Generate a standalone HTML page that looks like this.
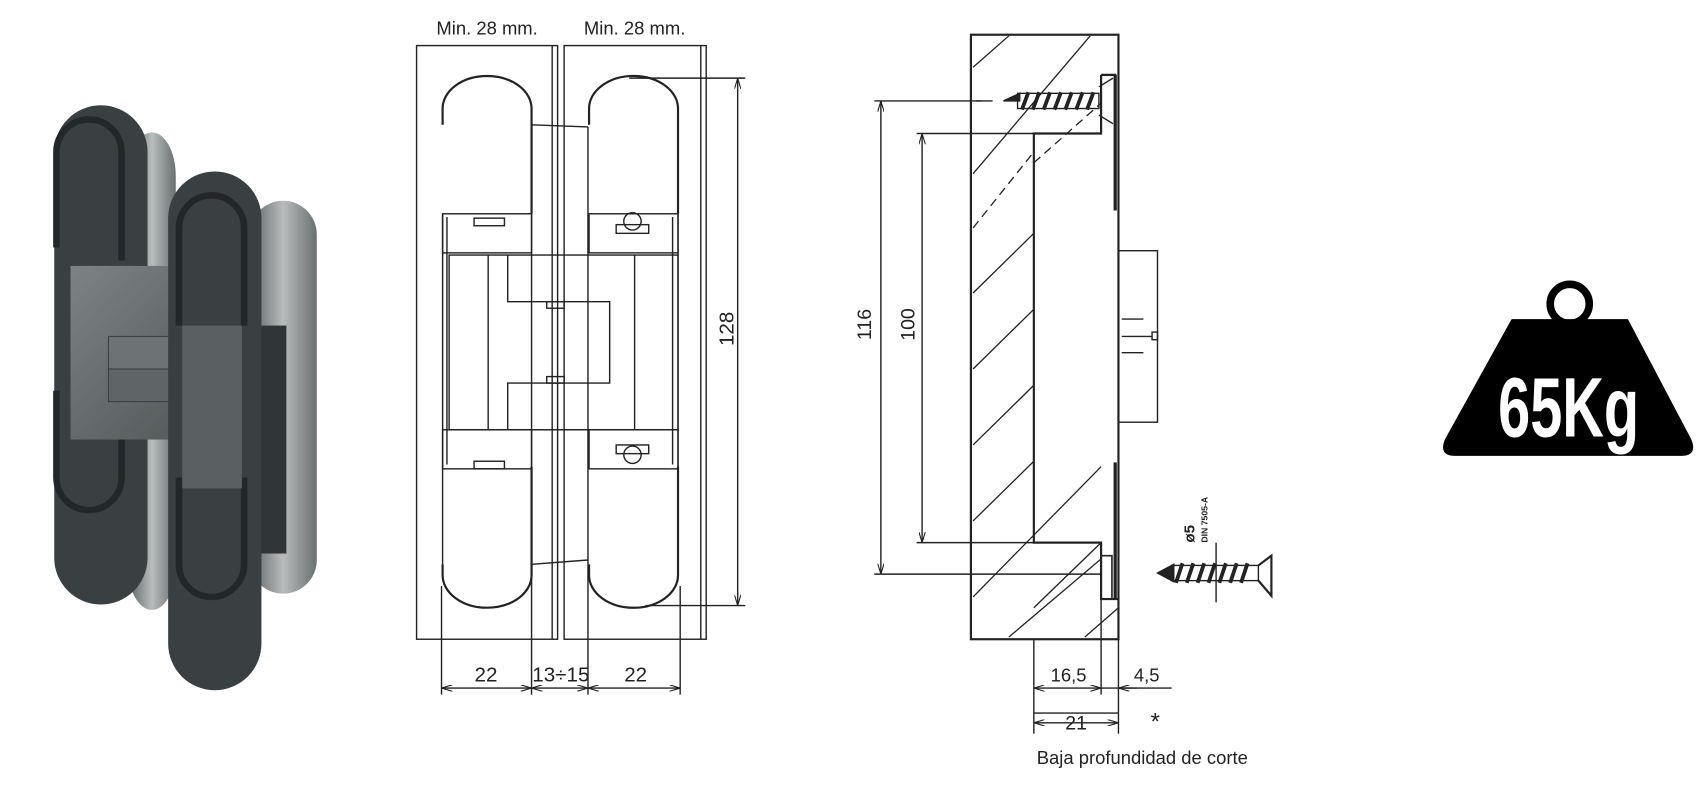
<!DOCTYPE html>
<html><head><meta charset="utf-8"><style>
html,body{margin:0;padding:0;background:#fff;width:1701px;height:789px;overflow:hidden}
svg{display:block}
text{font-family:"Liberation Sans Narrow","Liberation Sans",sans-serif;fill:#222}
</style></head><body>
<svg width="1701" height="789" viewBox="0 0 1568 727" preserveAspectRatio="none" xmlns="http://www.w3.org/2000/svg">
<defs>
<linearGradient id="edge" x1="0" y1="0" x2="1" y2="0"><stop offset="0" stop-color="#5a5f61"/><stop offset="0.5" stop-color="#b9bcbc"/><stop offset="1" stop-color="#6a6f70"/></linearGradient>
<linearGradient id="mech" x1="0" y1="0" x2="1" y2="1"><stop offset="0" stop-color="#7d8384"/><stop offset="1" stop-color="#4d5253"/></linearGradient>
<marker id="ar" viewBox="0 0 10 6" refX="10" refY="3" markerWidth="10" markerHeight="6" orient="auto-start-reverse" markerUnits="userSpaceOnUse"><path d="M0,0 L10,3 L0,6" fill="none" stroke="#222" stroke-width="1"/></marker>
</defs>

<!-- 3D hinge -->
<g>
  <rect x="118" y="122" width="44" height="440" rx="40" fill="url(#edge)"/>
  <rect x="50" y="97" width="86" height="460" rx="43" fill="#3a3f42"/>
  <path d="M52,228 V140 a30,30 0 0 1 60,0 V240" fill="none" stroke="#23272a" stroke-width="6"/>
  <path d="M52,360 V440 a30,30 0 0 0 60,0 V360" fill="none" stroke="#23272a" stroke-width="6"/>
  <rect x="65" y="245" width="150" height="160" fill="url(#mech)"/>
  <rect x="100" y="310" width="110" height="30" fill="#6d7374" stroke="#3b4042"/>
  <rect x="100" y="340" width="110" height="30" fill="#5f6566" stroke="#3b4042"/>
  <rect x="230" y="185" width="62" height="362" rx="31" fill="url(#edge)"/>
  <rect x="228" y="300" width="36" height="210" fill="#2f3436"/>
  <rect x="155" y="158" width="86" height="478" rx="43" fill="#3a3f42"/>
  <path d="M165,300 V210 a30,30 0 0 1 60,0 V300" fill="none" stroke="#23272a" stroke-width="6"/>
  <path d="M165,440 V520 a30,30 0 0 0 60,0 V440" fill="none" stroke="#23272a" stroke-width="6"/>
  <rect x="168" y="300" width="55" height="150" fill="#5a6061"/>
</g>

<g fill="none" stroke="#222" stroke-width="1.3">
<!-- middle drawing: plates -->
<rect x="384" y="42" width="130" height="547"/><line x1="509" y1="42" x2="509" y2="589"/>
<rect x="520" y="42" width="131" height="547"/><line x1="646" y1="42" x2="646" y2="589"/>
<!-- ovals -->
<path d="M408,115 V100 a41,30 0 0 1 82,0 V197" stroke-width="2"/>
<path d="M543,115 V100 a41,30 0 0 1 82,0 V197" stroke-width="2"/>
<path d="M408,520 V530 a41,30 0 0 0 82,0 V430" stroke-width="2"/>
<path d="M543,520 V530 a41,30 0 0 0 82,0 V430" stroke-width="2"/>
<line x1="408" y1="197" x2="408" y2="520"/><line x1="625" y1="197" x2="625" y2="520"/>
<line x1="408" y1="233" x2="408" y2="430" stroke-width="1"/>
<!-- blocks -->
<rect x="408" y="197" width="82" height="36"/><rect x="543" y="197" width="82" height="36"/>
<rect x="408" y="396" width="82" height="36"/><rect x="543" y="396" width="82" height="36"/>
<rect x="437" y="201" width="28" height="7"/><rect x="437" y="425" width="28" height="7"/>
<rect x="568" y="207" width="30" height="8"/><rect x="568" y="410" width="30" height="8"/>
<circle cx="583" cy="204" r="8"/><circle cx="583" cy="419" r="8"/>
<line x1="620" y1="200" x2="620" y2="428"/><line x1="412" y1="200" x2="412" y2="428"/>
<!-- body -->
<rect x="414" y="235" width="211" height="161"/>
<line x1="450" y1="235" x2="450" y2="396"/><line x1="585" y1="235" x2="585" y2="396"/>
<path d="M468,235 V278 H562 V353 H468 V396"/>
<rect x="504" y="278" width="16" height="6"/><rect x="504" y="347" width="16" height="6"/>
<!-- connectors -->
<line x1="490" y1="115" x2="542" y2="117"/><line x1="490" y1="520" x2="542" y2="516"/>
<line x1="490" y1="115" x2="490" y2="640"/><line x1="542" y1="117" x2="542" y2="640"/>
<line x1="490" y1="396" x2="542" y2="396"/>
<!-- 128 dim -->
<line x1="580" y1="72" x2="687" y2="72"/><line x1="595" y1="558" x2="687" y2="558"/>
<line x1="680" y1="72" x2="680" y2="558" marker-start="url(#ar)" marker-end="url(#ar)"/>
<!-- bottom dims -->
<line x1="407" y1="540" x2="407" y2="640"/><line x1="627" y1="540" x2="627" y2="640"/>
<line x1="407" y1="634" x2="490" y2="634" marker-start="url(#ar)" marker-end="url(#ar)"/>
<line x1="490" y1="634" x2="542" y2="634" marker-start="url(#ar)" marker-end="url(#ar)"/>
<line x1="542" y1="634" x2="627" y2="634" marker-start="url(#ar)" marker-end="url(#ar)"/>

<!-- right section drawing -->
<rect x="895" y="32" width="136" height="557" stroke-width="2"/>
<path d="M1015,69 V123 H953 V500 H1015 V552 H1031" stroke-width="2"/>
<path d="M1015,69 H1028 V194" stroke-width="2"/><line x1="1028" y1="69" x2="1028" y2="194" stroke-width="3"/>
<line x1="1028" y1="426" x2="1028" y2="552" stroke-width="3"/>
<path d="M1015,512 H1025 V552" stroke-width="1.5"/>
<rect x="1031" y="231" width="36" height="158"/>
<line x1="1034" y1="294" x2="1054" y2="294"/><line x1="1034" y1="325" x2="1054" y2="325"/>
<line x1="1034" y1="310" x2="1062" y2="310"/><rect x="1062" y="306" width="5" height="7"/>
<!-- hatching -->
<g stroke-width="1.2">
<line x1="897" y1="62" x2="930" y2="33"/><line x1="897" y1="160" x2="1005" y2="33"/>
<line x1="897" y1="210" x2="953" y2="140" stroke-dasharray="8 5"/>
<line x1="953" y1="150" x2="1015" y2="95" stroke-dasharray="8 5"/>
<line x1="897" y1="270" x2="953" y2="215"/><line x1="897" y1="340" x2="953" y2="285"/>
<line x1="897" y1="410" x2="953" y2="355"/><line x1="897" y1="480" x2="953" y2="425"/>
<line x1="897" y1="550" x2="1015" y2="430"/><line x1="953" y1="560" x2="1015" y2="500"/>
<line x1="930" y1="587" x2="1015" y2="515"/><line x1="1000" y1="587" x2="1031" y2="560"/>
</g>
<!-- top screw -->
<line x1="900" y1="93" x2="915" y2="93"/>
<path d="M940,93 L925,93 L940,86 Z" fill="#222"/>
<rect x="938" y="86" width="75" height="14"/>
<g stroke-width="3.5"><line x1="942" y1="101" x2="948" y2="85"/><line x1="952" y1="101" x2="958" y2="85"/><line x1="962" y1="101" x2="968" y2="85"/><line x1="972" y1="101" x2="978" y2="85"/><line x1="982" y1="101" x2="988" y2="85"/><line x1="992" y1="101" x2="998" y2="85"/><line x1="1002" y1="101" x2="1008" y2="85"/></g>
<path d="M1013,80 L1026,72 M1013,106 L1026,114"/>
<!-- 116 / 100 dims -->
<line x1="806" y1="93" x2="905" y2="93"/><line x1="806" y1="529" x2="1015" y2="529"/>
<line x1="812" y1="93" x2="812" y2="529" marker-start="url(#ar)" marker-end="url(#ar)"/>
<line x1="845" y1="123" x2="953" y2="123"/><line x1="845" y1="500" x2="953" y2="500"/>
<line x1="850" y1="123" x2="850" y2="500" marker-start="url(#ar)" marker-end="url(#ar)"/>
<!-- bottom dims right -->
<line x1="953" y1="589" x2="953" y2="676"/><line x1="1015" y1="552" x2="1015" y2="640"/><line x1="1031" y1="589" x2="1031" y2="676"/>
<line x1="953" y1="634" x2="1015" y2="634" marker-start="url(#ar)" marker-end="url(#ar)"/>
<line x1="1015" y1="634" x2="1080" y2="634"/>
<line x1="1048" y1="634" x2="1031" y2="634" marker-end="url(#ar)"/>
<line x1="953" y1="657" x2="1031" y2="657"/>
<line x1="953" y1="666" x2="1031" y2="666" marker-start="url(#ar)" marker-end="url(#ar)"/>
<!-- loose screw -->
<path d="M1067,528 L1082,520 L1082,536 Z" fill="#222"/>
<rect x="1080" y="521" width="80" height="14"/>
<g stroke-width="3.5"><line x1="1084" y1="537" x2="1090" y2="519"/><line x1="1094" y1="537" x2="1100" y2="519"/><line x1="1104" y1="537" x2="1110" y2="519"/><line x1="1114" y1="537" x2="1120" y2="519"/><line x1="1124" y1="537" x2="1130" y2="519"/><line x1="1134" y1="537" x2="1140" y2="519"/><line x1="1144" y1="537" x2="1150" y2="519"/></g>
<path d="M1160,521 L1172,512 V549 L1160,535" stroke-width="2"/>
<line x1="1121" y1="500" x2="1121" y2="555"/>
</g>

<!-- texts -->
<text x="449" y="32" font-size="17" text-anchor="middle">Min. 28 mm.</text>
<text x="585" y="32" font-size="17" text-anchor="middle">Min. 28 mm.</text>
<text x="448" y="628" font-size="19" text-anchor="middle">22</text>
<text x="517" y="628" font-size="19" text-anchor="middle">13÷15</text>
<text x="586" y="628" font-size="19" text-anchor="middle">22</text>
<text transform="translate(676,303) rotate(-90)" font-size="19" text-anchor="middle">128</text>
<text transform="translate(803,299) rotate(-90)" font-size="18" text-anchor="middle">116</text>
<text transform="translate(843,299) rotate(-90)" font-size="18" text-anchor="middle">100</text>
<text x="985" y="628" font-size="17" text-anchor="middle">16,5</text>
<text x="1057" y="628" font-size="17" text-anchor="middle">4,5</text>
<text x="992" y="672" font-size="18" text-anchor="middle">21</text>
<text x="1065" y="672" font-size="22" text-anchor="middle">*</text>
<text x="1053" y="704" font-size="17" text-anchor="middle">Baja profundidad de corte</text>
<text transform="translate(1101,500) rotate(-90)" font-size="14" font-weight="bold">ø5</text>
<text transform="translate(1113,500) rotate(-90)" font-size="8" font-weight="bold">DIN 7505-A</text>

<!-- weight -->
<circle cx="1447" cy="280" r="18" fill="none" stroke="#000" stroke-width="7"/>
<path d="M1394,295 H1500 L1558,405 Q1564,419 1550,419 H1341 Q1327,419 1333,405 Z" fill="#000" stroke="#000" stroke-width="2" stroke-linejoin="round"/>
<text x="1446" y="402" font-size="78" font-weight="bold" text-anchor="middle" textLength="130" lengthAdjust="spacingAndGlyphs" style="fill:#fff">65Kg</text>
</svg>
</body></html>
